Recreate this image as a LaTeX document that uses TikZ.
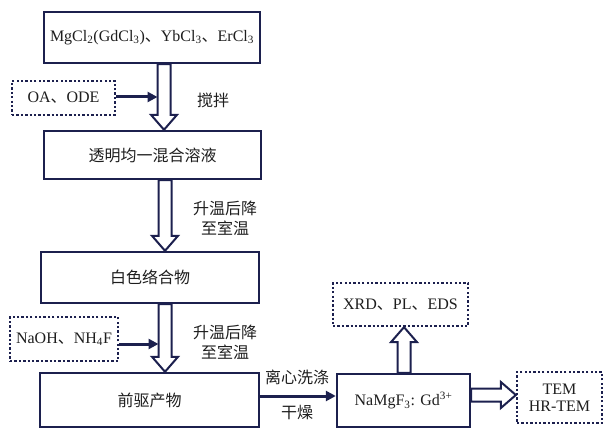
\documentclass[tikz,border=0pt]{standalone}
\usepackage{fontspec}
\setmainfont{Liberation Serif}
\newfontfamily\cjk{Noto Sans CJK SC}
\usetikzlibrary{calc,arrows.meta}
\definecolor{navy}{RGB}{28,32,78}
\definecolor{txt}{RGB}{30,30,30}
\newcommand\hollowarrow[2]{%
  \path ($(#2)!15pt!(#1)$) coordinate (hc);
  \draw[hollow] ($(#1)!6.5pt!90:(#2)$) -- ($(hc)!6.5pt!90:(#2)$) -- ($(hc)!13pt!90:(#2)$) -- (#2)
    -- ($(hc)!13pt!-90:(#2)$) -- ($(hc)!6.5pt!-90:(#2)$) -- ($(#1)!6.5pt!-90:(#2)$) -- cycle;}
\tikzset{
  box/.style={draw=navy, line width=2.4pt, fill=white, text=txt, inner sep=0pt,
    font=\fontsize{16}{19}\selectfont, align=center},
  dbox/.style={draw=navy, line width=2.3pt, dash pattern=on 2.3pt off 2.1pt, fill=white,
    text=txt, inner sep=0pt, font=\fontsize{16}{19}\selectfont, align=center},
  hollow/.style={draw=navy, line width=2pt, fill=white, line join=miter},
  thinarrow/.style={draw=navy, line width=3pt, -{Triangle[length=10pt,width=10pt]}},
  lbl/.style={text=txt, font=\fontsize{16}{19}\selectfont, align=center, inner sep=0pt},
}
\begin{document}
\begin{tikzpicture}[x=1pt,y=-1pt]
\useasboundingbox (0,0) rectangle (604,435);
\node[box, minimum width=216pt, minimum height=51pt] (b1) at (152,37.5)
  {MgCl\textsubscript{2}(GdCl\textsubscript{3}){\cjk 、}YbCl\textsubscript{3}{\cjk 、}ErCl\textsubscript{3}};
\node[box, minimum width=217pt, minimum height=48pt] (b2) at (152.5,155) {\cjk 透明均一混合溶液};
\node[box, minimum width=218pt, minimum height=51pt] (b3) at (150,277.5) {\cjk 白色络合物};
\node[box, minimum width=219pt, minimum height=54pt] (b4) at (149.5,400) {\cjk 前驱产物};
\node[dbox, minimum width=103pt, minimum height=34pt] (oa) at (63.5,98) {OA{\cjk 、}ODE};
\node[dbox, minimum width=108pt, minimum height=44pt] (naoh) at (64,339) {NaOH{\cjk 、}NH\textsubscript{4}F};
\node[box, minimum width=133pt, minimum height=53pt] (na) at (403.5,400.5) {NaMgF\textsubscript{3}: Gd\textsuperscript{3+}};
\node[dbox, minimum width=135pt, minimum height=43pt] (xrd) at (400.5,304.5) {XRD{\cjk 、}PL{\cjk 、}EDS};
\node[dbox, minimum width=85pt, minimum height=51pt] (tem) at (559.5,397.5) {TEM\\[-2pt]HR-TEM};

% hollow arrows
\coordinate (h1a) at ($(b1.south)+(12,0)$);
\coordinate (h1b) at (h1a |- b2.north);
\hollowarrow{h1a}{h1b}
\coordinate (h2a) at ($(b2.south)+(12.5,0)$);
\coordinate (h2b) at (h2a |- b3.north);
\hollowarrow{h2a}{h2b}
\coordinate (h3a) at ($(b3.south)+(15,0)$);
\coordinate (h3b) at (h3a |- b4.north);
\hollowarrow{h3a}{h3b}
\coordinate (h4a) at ($(na.north)+(0.5,0)$);
\coordinate (h4b) at (h4a |- xrd.south);
\hollowarrow{h4a}{h4b}
\coordinate (h5a) at ($(na.east)+(0,-5.5)$);
\coordinate (h5b) at (h5a -| tem.west);
\hollowarrow{h5a}{h5b}

% thin arrows
\coordinate (s1) at ($(h1a)+(-6.5,0)$);
\draw[thinarrow] ($(oa.east)+(0,-1)$) -- ($(oa.east -| s1)+(0,-1)$);
\coordinate (s3) at ($(h3a)+(-6.5,0)$);
\draw[thinarrow] ($(naoh.east)+(0,5)$) -- ($(naoh.east -| s3)+(0,5)$);
\draw[thinarrow] ($(b4.east)+(0,-4)$) -- ($(b4.east -| na.west)+(0,-4)$);

% labels
\node[lbl] (l1) at (213,100) {\cjk 搅拌};
\node[lbl] (l2) at (225,218) {\cjk 升温后降\\[1pt]\cjk 至室温};
\node[lbl] (l3) at (225,342) {\cjk 升温后降\\[1pt]\cjk 至室温};
\node[lbl] (l4) at (297,377) {\cjk 离心洗涤};
\node[lbl] (l5) at (297,413) {\cjk 干燥};
\end{tikzpicture}
\end{document}
